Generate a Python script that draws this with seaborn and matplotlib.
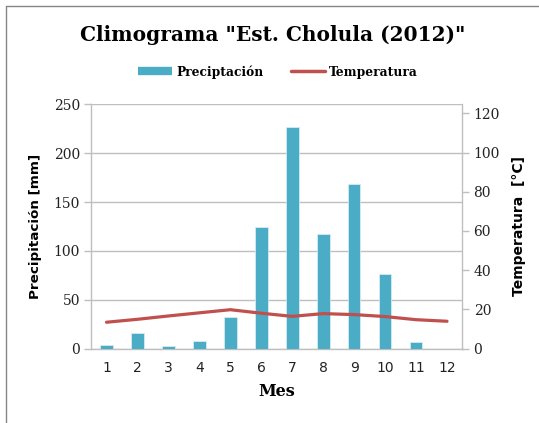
import numpy as np
import pandas as pd
import matplotlib
matplotlib.use("Agg")
import matplotlib.pyplot as plt
from matplotlib.lines import Line2D
import seaborn as sns

# Monthly climate data, Cholula station 2012
meses = [1, 2, 3, 4, 5, 6, 7, 8, 9, 10, 11, 12]
precipitacion = [3.5, 16, 3, 8, 32, 124.5, 227, 117, 168.5, 76, 6.5, 0]
temperatura = [13.4, 14.9, 16.6, 18.2, 19.8, 18.0, 16.4, 17.8, 17.3, 16.3, 14.7, 13.9]
prec_ticks = [0, 50, 100, 150, 200, 250]
temp_ticks = [0, 20, 40, 60, 80, 100, 120]
leyenda = ["Preciptación", "Temperatura"]

df = pd.DataFrame({"Mes": meses, "Precipitación": precipitacion,
                   "Temperatura": temperatura})

sns.set_theme(style="white")
plt.rcParams["font.family"] = ["DejaVu Serif", "DejaVu Sans"]

BAR = "#4BACC6"
LINE = "#C0504D"
GRID = "#BFBFBF"
SERIF = "DejaVu Serif"
SANS = "DejaVu Sans"

fig = plt.figure(figsize=(5.39, 4.23), dpi=100)
ax = fig.add_axes([91 / 539, 1 - 348.5 / 423, 371.5 / 539, 244 / 423])

sns.barplot(data=df, x="Mes", y="Precipitación", native_scale=True,
            color=BAR, saturation=1, width=0.41, edgecolor="#DDEFF5",
            linewidth=0.5, ax=ax, zorder=3)
ax.set_xlim(0.5, 12.5)
ax.set_ylim(0, 250)
ax.set_yticks(prec_ticks)
ax.set_yticklabels([str(t) for t in prec_ticks], fontfamily=SERIF,
                   fontsize=10, color="#222222")
ax.yaxis.grid(True, color=GRID, linewidth=1)
ax.set_axisbelow(True)

# category ticks between months, labels centred under each month
ax.set_xticks(np.arange(0.5, 13, 1))
ax.set_xticklabels([])
ax.set_xticks(meses, minor=True)
ax.set_xticklabels([str(m) for m in meses], minor=True, fontfamily=SANS,
                   fontsize=10, color="#222222")
ax.tick_params(axis="x", which="major", direction="out", length=5,
               color=GRID, width=1)
ax.tick_params(axis="x", which="minor", length=0, pad=9)
ax.tick_params(axis="y", direction="out", length=5, color=GRID, width=1,
               left=True, pad=3)

for side in ("left", "right", "bottom"):
    ax.spines[side].set_color(GRID)
    ax.spines[side].set_linewidth(1)
ax.spines["top"].set_visible(False)

ax.set_xlabel("Mes", fontfamily=SERIF, fontweight="bold", fontsize=11.5,
              labelpad=6, color="black")
ax.set_ylabel("Precipitación [mm]", fontfamily=SANS, fontweight="bold",
              fontsize=9.7, labelpad=8, color="black")

ax2 = ax.twinx()
sns.lineplot(data=df, x="Mes", y="Temperatura", color=LINE, linewidth=2.3,
             ax=ax2, legend=False)
ax2.set_ylim(0, 124.5)
ax2.set_yticks(temp_ticks)
ax2.set_yticklabels([str(t) for t in temp_ticks], fontfamily=SERIF,
                    fontsize=10, color="#222222")
ax2.tick_params(axis="y", direction="out", length=5, color=GRID, width=1,
                right=True, pad=3)
for s in ax2.spines.values():
    s.set_visible(False)
ax2.set_ylabel("Temperatura  [°C]", fontfamily=SANS, fontweight="bold",
               fontsize=10, labelpad=9, color="black")
ax2.set_xlim(0.5, 12.5)

fig.suptitle('Climograma "Est. Cholula (2012)"', x=0.505, y=0.94,
             fontfamily=SERIF, fontweight="bold", fontsize=14.5, color="black")

handles = [Line2D([0], [0], color=BAR, linewidth=6, solid_capstyle="butt"),
           Line2D([0], [0], color=LINE, linewidth=2.5)]
leg = fig.legend(handles, leyenda, loc="center",
                 bbox_to_anchor=(0.516, 1 - 72 / 423), ncol=2, frameon=False,
                 prop={"family": SERIF, "weight": "bold", "size": 8.8},
                 handlelength=2.8, handletextpad=0.35, columnspacing=2.2)
for t in leg.get_texts():
    t.set_color("black")

# chart frame
fig.add_artist(Line2D([5.5 / 539, 5.5 / 539], [0, 1 - 6 / 423],
                      transform=fig.transFigure, color="#868686", linewidth=1))
fig.add_artist(Line2D([5.5 / 539, 1], [1 - 6 / 423, 1 - 6 / 423],
                      transform=fig.transFigure, color="#868686", linewidth=1))

fig.savefig("out.png", dpi=100)
